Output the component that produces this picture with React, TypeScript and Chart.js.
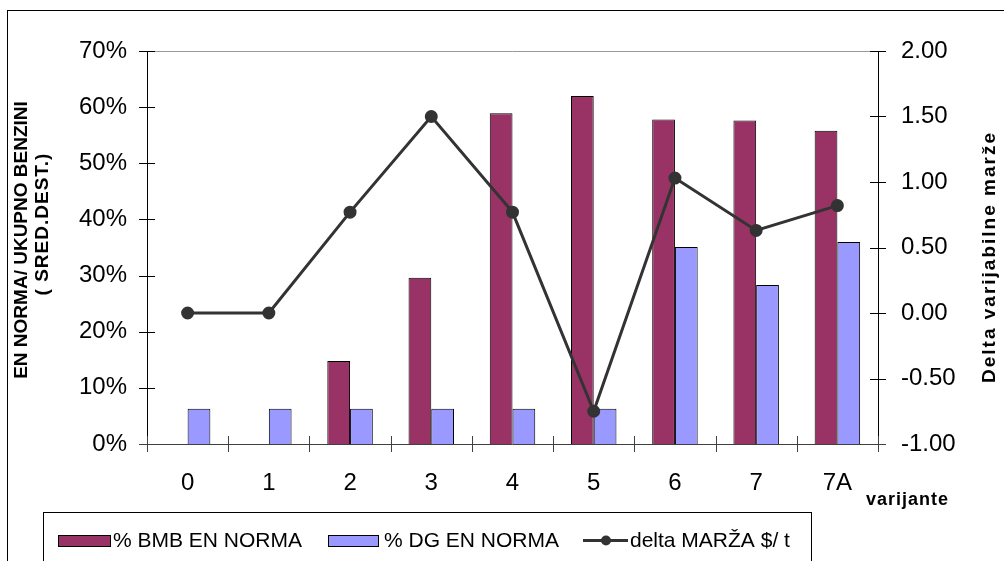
import React, { useEffect, useRef } from "react";
import { Chart, registerables } from "chart.js";

Chart.register(...registerables);

// Variants on the category axis
const categories = ["0", "1", "2", "3", "4", "5", "6", "7", "7A"];
// Share of EN-norm gasoline in total gasoline (%)
const bmbEnNorma = [0, 0, 14.8, 29.6, 58.9, 62.0, 57.8, 57.6, 55.8];
const dgEnNorma = [6.3, 6.3, 6.3, 6.3, 6.3, 6.3, 35.1, 28.3, 36.0];
// Change of variable margin, $/t
const deltaMarza = [0, 0, 0.77, 1.5, 0.77, -0.75, 1.03, 0.63, 0.82];

const seriesNames = ["% BMB EN NORMA", "% DG EN NORMA", "delta MARŽA $/ t"];
const leftTitle = ["EN NORMA/ UKUPNO BENZINI", "( SRED.DEST.)"];
const rightTitle = "Delta varijabilne marže";
const xTitle = "varijante";

const FONT = "'Liberation Sans', Arial, sans-serif";
const BMB_COLOR = "#993366";
const DG_COLOR = "#9999FF";
const LINE_COLOR = "#333333";

const decorPlugin = {
  id: "decor",
  beforeDatasetsDraw(chart: any) {
    const ctx = chart.ctx as CanvasRenderingContext2D;
    const a = chart.chartArea;
    const yl = chart.scales.y;
    const yr = chart.scales.y1;
    ctx.save();
    ctx.lineWidth = 1;

    // plot area top edge
    ctx.strokeStyle = "#999999";
    ctx.beginPath();
    ctx.moveTo(a.left, Math.round(a.top) + 0.5);
    ctx.lineTo(a.right, Math.round(a.top) + 0.5);
    ctx.stroke();

    // left and right axes
    ctx.strokeStyle = "#000000";
    ctx.beginPath();
    ctx.moveTo(Math.round(a.left) + 0.5, a.top);
    ctx.lineTo(Math.round(a.left) + 0.5, a.bottom + 8);
    ctx.moveTo(Math.round(a.right) + 0.5, a.top);
    ctx.lineTo(Math.round(a.right) + 0.5, a.bottom + 8);
    ctx.stroke();

    // value axis ticks, crossing the axis lines
    ctx.beginPath();
    yl.ticks.forEach((t: any) => {
      const py = Math.round(yl.getPixelForValue(t.value)) + 0.5;
      ctx.moveTo(a.left - 8, py);
      ctx.lineTo(a.left + 8, py);
    });
    yr.ticks.forEach((t: any) => {
      const py = Math.round(yr.getPixelForValue(t.value)) + 0.5;
      ctx.moveTo(a.right - 8, py);
      ctx.lineTo(a.right + 8, py);
    });
    ctx.stroke();

    // category axis and boundary ticks
    ctx.strokeStyle = "#404040";
    ctx.beginPath();
    const by = Math.round(a.bottom) + 0.5;
    ctx.moveTo(a.left - 8, by);
    ctx.lineTo(a.right + 8, by);
    const n = categories.length;
    for (let i = 0; i <= n; i++) {
      const px = Math.round(a.left + ((a.right - a.left) * i) / n) + 0.5;
      ctx.moveTo(px, a.bottom - 8);
      ctx.lineTo(px, a.bottom + 8);
    }
    ctx.stroke();
    ctx.restore();
  },
  afterDraw(chart: any) {
    const ctx = chart.ctx as CanvasRenderingContext2D;
    ctx.save();
    ctx.fillStyle = "#000000";
    ctx.strokeStyle = "#000000";
    ctx.lineWidth = 1;

    // outer frame
    ctx.strokeRect(7.5, 10.5, 1010, 600);

    // axis titles
    ctx.font = `bold 19px ${FONT}`;
    ctx.textAlign = "center";
    ctx.textBaseline = "middle";
    ctx.save();
    ctx.translate(22, 240);
    ctx.rotate(-Math.PI / 2);
    ctx.fillText(leftTitle[0], 0, 0);
    ctx.restore();
    ctx.save();
    ctx.translate(43, 224);
    ctx.rotate(-Math.PI / 2);
    (ctx as any).letterSpacing = "1px";
    ctx.fillText(leftTitle[1], 0, 0);
    ctx.restore();
    ctx.save();
    ctx.translate(990, 257);
    ctx.rotate(-Math.PI / 2);
    (ctx as any).letterSpacing = "2px";
    ctx.fillText(rightTitle, 0, 0);
    ctx.restore();

    ctx.save();
    ctx.font = `bold 18px ${FONT}`;
    (ctx as any).letterSpacing = "1px";
    ctx.textAlign = "left";
    ctx.fillText(xTitle, 866, 500);
    ctx.restore();

    // legend
    ctx.strokeRect(43.5, 512.5, 768, 100);
    ctx.font = `21px ${FONT}`;
    ctx.textAlign = "left";
    ctx.textBaseline = "middle";
    const ly = 541;
    ctx.fillStyle = BMB_COLOR;
    ctx.fillRect(58, 535, 52, 11);
    ctx.strokeRect(58.5, 535.5, 52, 11);
    ctx.fillStyle = DG_COLOR;
    ctx.fillRect(328, 535, 50, 11);
    ctx.strokeRect(328.5, 535.5, 50, 11);
    ctx.strokeStyle = LINE_COLOR;
    ctx.lineWidth = 3;
    ctx.beginPath();
    ctx.moveTo(583, 540.5);
    ctx.lineTo(628, 540.5);
    ctx.stroke();
    ctx.fillStyle = LINE_COLOR;
    ctx.beginPath();
    ctx.arc(606, 540.5, 5, 0, Math.PI * 2);
    ctx.fill();
    ctx.fillStyle = "#000000";
    ctx.fillText(seriesNames[0], 113, ly);
    ctx.fillText(seriesNames[1], 384, ly);
    ctx.fillText(seriesNames[2], 630, ly);
    ctx.restore();
  },
};

export default function App() {
  const canvasRef = useRef<HTMLCanvasElement | null>(null);

  useEffect(() => {
    const canvas = canvasRef.current;
    if (!canvas) return;
    const chart = new Chart(canvas, {
      type: "bar",
      data: {
        labels: categories,
        datasets: [
          {
            type: "line",
            label: seriesNames[2],
            data: deltaMarza,
            yAxisID: "y1",
            borderColor: LINE_COLOR,
            borderWidth: 3,
            pointRadius: 5,
            pointBackgroundColor: LINE_COLOR,
            pointBorderColor: LINE_COLOR,
            tension: 0,
            order: 0,
          } as any,
          {
            type: "bar",
            label: seriesNames[0],
            data: bmbEnNorma,
            yAxisID: "y",
            backgroundColor: BMB_COLOR,
            borderColor: "#000000",
            borderWidth: 1,
            categoryPercentage: 0.56,
            barPercentage: 1,
            order: 1,
          },
          {
            type: "bar",
            label: seriesNames[1],
            data: dgEnNorma,
            yAxisID: "y",
            backgroundColor: DG_COLOR,
            borderColor: "#000000",
            borderWidth: 1,
            categoryPercentage: 0.56,
            barPercentage: 1,
            order: 1,
          },
        ],
      },
      options: {
        responsive: false,
        animation: false,
        devicePixelRatio: 1,
        layout: { padding: { top: 51, left: 0, right: 0, bottom: 0 } },
        plugins: {
          legend: { display: false },
          tooltip: { enabled: false },
        },
        scales: {
          x: {
            type: "category",
            position: "bottom",
            grid: { display: false, drawTicks: false },
            border: { display: false },
            ticks: {
              color: "#000000",
              font: { family: FONT, size: 24 },
              padding: 25,
              maxRotation: 0,
            },
            afterFit(scale: any) {
              scale.height = 117;
            },
          },
          y: {
            type: "linear",
            position: "left",
            min: 0,
            max: 70,
            grid: { display: false, drawTicks: false },
            border: { display: false },
            ticks: {
              stepSize: 10,
              color: "#000000",
              font: { family: FONT, size: 24 },
              padding: 20,
              callback: (v: any) => `${v}%`,
            },
            afterFit(scale: any) {
              scale.width = 147;
            },
          },
          y1: {
            type: "linear",
            position: "right",
            min: -1,
            max: 2,
            grid: { display: false, drawTicks: false },
            border: { display: false },
            ticks: {
              stepSize: 0.5,
              color: "#000000",
              font: { family: FONT, size: 24 },
              padding: 23,
              callback: (v: any) => Number(v).toFixed(2),
            },
            afterFit(scale: any) {
              scale.width = 126;
            },
          },
        },
      },
      plugins: [decorPlugin],
    });
    return () => chart.destroy();
  }, []);

  return (
    <div
      style={{
        position: "fixed",
        left: 0,
        top: 0,
        width: 1004,
        height: 561,
        overflow: "hidden",
        background: "#ffffff",
      }}
    >
      <canvas ref={canvasRef} width={1004} height={561} />
    </div>
  );
}
